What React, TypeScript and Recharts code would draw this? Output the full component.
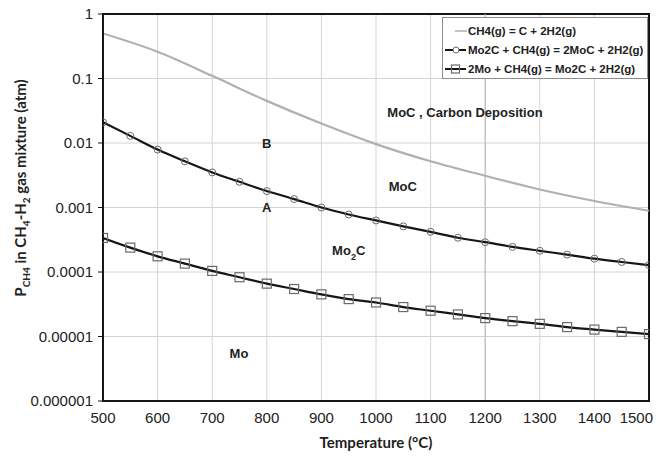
import React from 'react'
import {
  CartesianGrid,
  Line,
  LineChart,
  ReferenceArea,
  ReferenceDot,
  ReferenceLine,
  XAxis,
  YAxis,
} from 'recharts'

// temperatures (°C) for the two Mo reactions, every 50 degrees
const temperatures = [
  500, 550, 600, 650, 700, 750, 800, 850, 900, 950, 1000, 1050, 1100, 1150, 1200, 1250, 1300, 1350, 1400, 1450,
  1500,
]
// Mo2C + CH4(g) = 2MoC + 2H2(g)
const carbidePressure = [
  0.021, 0.0129, 0.0079, 0.0052, 0.0035, 0.0025, 0.0018, 0.00135, 0.001, 0.00078, 0.00063, 0.00051, 0.00042,
  0.00034, 0.00029, 0.000245, 0.000213, 0.000186, 0.000161, 0.000143, 0.000128,
]
// 2Mo + CH4(g) = Mo2C + 2H2(g)
const metalPressure = [
  0.000337, 0.000239, 0.000175, 0.000135, 0.000104, 0.000083, 0.000066, 0.0000545, 0.000045, 0.000038, 0.0000337,
  0.0000286, 0.0000251, 0.000022, 0.0000193, 0.0000173, 0.0000157, 0.000014, 0.0000128, 0.0000118, 0.0000109,
]
// CH4(g) = C + 2H2(g)
const carbonTemps = [500, 600, 700, 800, 900, 1000, 1100, 1200, 1300, 1400, 1500]
const carbonPressure = [0.5, 0.26, 0.11, 0.045, 0.02, 0.0096, 0.0052, 0.0031, 0.0019, 0.00126, 0.00089]

const xTicks = [500, 600, 700, 800, 900, 1000, 1100, 1200, 1300, 1400, 1500]
const yTicks = [0.000001, 0.00001, 0.0001, 0.001, 0.01, 0.1, 1]
const yTickLabels = ['0.000001', '0.00001', '0.0001', '0.001', '0.01', '0.1', '1']

const legendLabels = [
  'CH4(g) = C + 2H2(g)',
  'Mo2C + CH4(g) = 2MoC + 2H2(g)',
  '2Mo + CH4(g) = Mo2C + 2H2(g)',
]

const regionLabels = [
  { text: 'MoC , Carbon Deposition', x: 1163, y: 0.03 },
  { text: 'MoC', x: 1049, y: 0.0021 },
  { text: 'Mo2C', x: 950, y: 0.000213 },
  { text: 'B', x: 800, y: 0.01 },
  { text: 'A', x: 800, y: 0.001 },
  { text: 'Mo', x: 749, y: 0.0000054 },
]

const carbideRows = temperatures.map((temperature, i) => ({ temperature, pressure: carbidePressure[i] }))
const metalRows = temperatures.map((temperature, i) => ({ temperature, pressure: metalPressure[i] }))
const carbonRows = carbonTemps.map((temperature, i) => ({ temperature, pressure: carbonPressure[i] }))

const ARIAL = '"Liberation Sans", Arial, sans-serif'
const TITLE_FONT = 'Lato, "Open Sans", sans-serif'
const INK = '#161616'
const GRAY_LINE = '#b0b0b0'
const MARKER = '#6a6a6a'

function SquareDot(props: any) {
  const { cx, cy, index } = props
  if (cx == null || cy == null) return <g key={`sq-${index}`} />
  return (
    <rect
      key={`sq-${index}`}
      x={cx - 4.5}
      y={cy - 4.5}
      width={9}
      height={9}
      fill="none"
      stroke={MARKER}
      strokeWidth={1.2}
    />
  )
}

function TemperatureTick(props: any) {
  const { x, y, payload } = props
  const last = payload.value === xTicks[xTicks.length - 1]
  return (
    <text
      x={last ? x + 9 : x}
      y={y}
      dy="0.71em"
      textAnchor={last ? 'end' : 'middle'}
      fontFamily={ARIAL}
      fontSize={15}
      fill="#222"
    >
      {payload.value}
    </text>
  )
}

function renderRegionLabel(text: string) {
  return (props: any) => {
    const vb = props.viewBox ?? {}
    const cx = (vb.x ?? 0) + (vb.width ?? 0) / 2
    const cy = (vb.y ?? 0) + (vb.height ?? 0) / 2
    const sub = text === 'Mo2C'
    return (
      <text
        x={cx}
        y={cy}
        dy="0.35em"
        textAnchor="middle"
        fontFamily={ARIAL}
        fontWeight="bold"
        fontSize={13}
        fill="#222"
      >
        {sub ? (
          <>
            Mo
            <tspan fontSize={9} baselineShift="sub">
              2
            </tspan>
            C
          </>
        ) : (
          text
        )}
      </text>
    )
  }
}

function PressureTitle() {
  return (
    <text
      transform="translate(20, 188) rotate(-90)"
      textAnchor="middle"
      dominantBaseline="central"
      fontFamily={TITLE_FONT}
      fontWeight="bold"
      fontSize={15}
      fill="#222"
    >
      P
      <tspan fontSize={10} baselineShift="sub">
        CH4
      </tspan>
      <tspan> in CH</tspan>
      <tspan fontSize={10} baselineShift="sub">
        4
      </tspan>
      <tspan>-H</tspan>
      <tspan fontSize={10} baselineShift="sub">
        2
      </tspan>
      <tspan> gas mixture (atm)</tspan>
    </text>
  )
}

function LegendBox() {
  return (
    <div
      style={{
        position: 'absolute',
        left: 442,
        top: 17,
        width: 206,
        height: 62,
        background: '#fff',
        border: '1px solid #8c8c8c',
        boxSizing: 'border-box',
        fontFamily: ARIAL,
        fontWeight: 'bold',
        fontSize: 11.5,
        color: '#222',
        padding: '3px 0 0 2px',
      }}
    >
      {legendLabels.map((label, i) => (
        <div key={label} style={{ display: 'flex', alignItems: 'center', height: 19 }}>
          <svg width={22} height={12} style={{ flex: 'none' }}>
            {i === 0 ? (
              <line x1={10} x2={22} y1={6} y2={6} stroke={GRAY_LINE} strokeWidth={1.5} />
            ) : (
              <line x1={0} x2={21} y1={6} y2={6} stroke={INK} strokeWidth={2} />
            )}
            {i === 1 && <circle cx={11} cy={6} r={3} fill="#fff" stroke={MARKER} strokeWidth={1} />}
            {i === 2 && <rect x={6.5} y={2} width={8} height={8} fill="none" stroke={MARKER} strokeWidth={1.2} />}
          </svg>
          <span style={{ marginLeft: 1, whiteSpace: 'nowrap' }}>{label}</span>
        </div>
      ))}
    </div>
  )
}

export default function App() {
  return (
    <div style={{ position: 'absolute', left: 0, top: 0, width: 660, height: 458, background: '#fff' }}>
      <LineChart width={660} height={458} margin={{ top: 14, right: 11, bottom: 12, left: 0 }}>
        <CartesianGrid stroke="#d4d4d4" strokeWidth={1} />
        <ReferenceLine x={1200} stroke="#b8b8b8" strokeWidth={1} />
        <XAxis
          type="number"
          dataKey="temperature"
          domain={[500, 1500]}
          ticks={xTicks}
          allowDataOverflow
          height={45}
          tickSize={0}
          tickMargin={11}
          axisLine={{ stroke: INK, strokeWidth: 2 }}
          tick={<TemperatureTick />}
          label={(props: any) => {
            const vb = props.viewBox ?? {}
            return (
              <text
                x={(vb.x ?? 0) + (vb.width ?? 0) / 2}
                y={448}
                textAnchor="middle"
                fontFamily={TITLE_FONT}
                fontWeight="bold"
                fontSize={15}
                fill="#222"
              >
                Temperature (°C)
              </text>
            )
          }}
        />
        <YAxis
          type="number"
          dataKey="pressure"
          scale="log"
          domain={[0.000001, 1]}
          ticks={yTicks}
          allowDataOverflow
          width={103}
          tickSize={5}
          tickMargin={5}
          tickLine={{ stroke: INK }}
          axisLine={{ stroke: INK, strokeWidth: 2 }}
          tickFormatter={(value: number) => yTickLabels[yTicks.indexOf(value)] ?? String(value)}
          tick={{ fontFamily: ARIAL, fontSize: 15, fill: '#222' }}
          label={<PressureTitle />}
        />
        <Line
          data={carbonRows}
          dataKey="pressure"
          type="monotone"
          stroke={GRAY_LINE}
          strokeWidth={2.2}
          dot={false}
          isAnimationActive={false}
        />
        <Line
          data={carbideRows}
          dataKey="pressure"
          type="monotone"
          stroke={INK}
          strokeWidth={2.2}
          dot={{ r: 3.5, stroke: MARKER, strokeWidth: 1, fill: 'none' }}
          isAnimationActive={false}
        />
        <Line
          data={metalRows}
          dataKey="pressure"
          type="monotone"
          stroke={INK}
          strokeWidth={2.2}
          dot={<SquareDot />}
          isAnimationActive={false}
        />
        {regionLabels.map((item) => (
          <ReferenceDot
            key={item.text}
            x={item.x}
            y={item.y}
            r={0.01}
            fill="none"
            stroke="none"
            label={renderRegionLabel(item.text)}
          />
        ))}
        <ReferenceArea
          x1={500}
          x2={1500}
          y1={0.000001}
          y2={1}
          fill="none"
          stroke={INK}
          strokeWidth={2}
          ifOverflow="visible"
        />
      </LineChart>
      <LegendBox />
    </div>
  )
}
